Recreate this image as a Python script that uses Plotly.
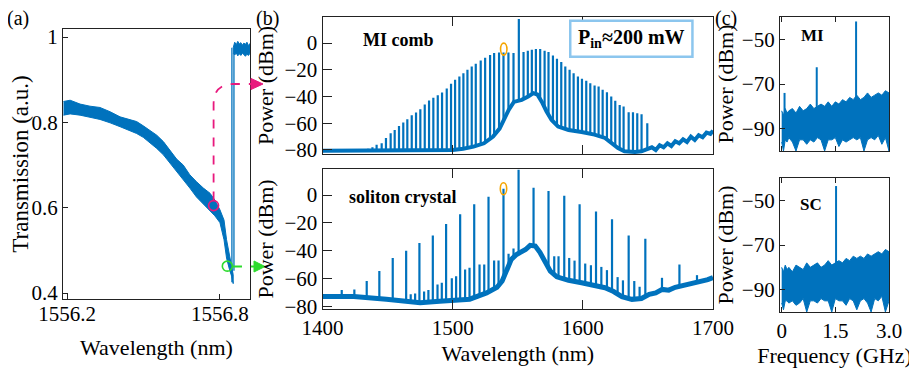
import plotly.graph_objects as go

# ---------------- (a) transmission scan ----------------
trans_wl = [1556.186, 1556.212, 1556.251, 1556.290, 1556.329, 1556.369, 1556.408, 1556.447,
            1556.473, 1556.499, 1556.525, 1556.552, 1556.578, 1556.604, 1556.630, 1556.656,
            1556.682, 1556.708, 1556.735, 1556.761, 1556.780, 1556.800, 1556.816, 1556.826,
            1556.837, 1556.846, 1556.852]
trans_upper = [0.849, 0.852, 0.843, 0.838, 0.835, 0.825, 0.813, 0.806, 0.802, 0.792, 0.781,
               0.770, 0.755, 0.735, 0.714, 0.700, 0.677, 0.661, 0.646, 0.634, 0.618, 0.595,
               0.571, 0.525, 0.486, 0.462, 0.443]
trans_lower = [0.817, 0.820, 0.817, 0.812, 0.807, 0.799, 0.790, 0.781, 0.774, 0.765, 0.753,
               0.739, 0.724, 0.704, 0.685, 0.665, 0.646, 0.625, 0.609, 0.593, 0.581, 0.565,
               0.525, 0.482, 0.456, 0.439, 0.422]
step_wl = [1556.847, 1556.855]
step_low = [0.425, 0.452]
step_high = [0.975, 0.975]
plateau_wl = [1556.852, 1556.858, 1556.864, 1556.870, 1556.876, 1556.882, 1556.888,
              1556.894, 1556.900, 1556.906, 1556.912, 1556.918]
plateau_upper = [0.975, 0.988, 0.982, 0.990, 0.984, 0.987, 0.981, 0.986, 0.983, 0.988, 0.980, 0.985]
plateau_lower = [0.962, 0.958, 0.963, 0.956, 0.961, 0.957, 0.962, 0.959, 0.955, 0.960, 0.957, 0.962]
mark_mi_a = (1556.775, 0.605)
mark_sc_a = (1556.829, 0.463)

# ---------------- (b) optical spectra ----------------
mi_wl = [1435.0, 1438.3, 1441.5, 1445.4, 1448.7, 1452.3, 1455.4, 1458.7, 1462.0, 1465.1,
         1468.5, 1471.8, 1475.1, 1478.5, 1481.8, 1485.1, 1488.5, 1491.8, 1495.4, 1498.7,
         1501.8, 1505.1, 1508.2, 1511.3, 1514.6, 1517.7, 1521.5, 1524.9, 1528.7, 1531.8,
         1535.6, 1539.0, 1542.8, 1546.7, 1550.8,
         1554.4, 1557.7, 1560.8, 1563.9, 1567.2, 1570.6, 1573.6, 1577.0, 1580.1, 1583.4,
         1586.5, 1589.8, 1592.9, 1596.2, 1599.3, 1602.6, 1605.7, 1609.0, 1612.1, 1615.2,
         1618.5, 1621.8, 1624.9, 1628.3, 1631.3, 1635.2, 1638.5, 1641.8, 1645.1, 1649.5]
mi_top = [-79, -78, -76, -75, -71, -67.5, -65, -62, -59.5, -57,
          -54, -52, -49.5, -46, -43, -41, -39, -37, -34, -30.5,
          -27.5, -25, -22.5, -20, -17.5, -15.5, -13, -11, -9, -7.5,
          -7, -7, -7, -7.5, 18,
          -6.75, -5.75, -5, -4.5, -4.5, -5.75, -6.75, -9.25, -11.75, -14.25,
          -17.5, -20, -22.5, -25, -26.75, -28.25, -30, -31.75, -32.5, -35,
          -36.75, -40, -43.25, -46.25, -47.5, -51.75, -51.75, -52.5, -53.25, -60]
mi_floor_wl = [1400, 1420, 1440, 1460, 1480, 1500, 1508, 1516, 1524, 1531, 1536, 1540, 1543,
               1547, 1550, 1553, 1558, 1562, 1565, 1568.5, 1572, 1576, 1581, 1589, 1599, 1609,
               1617, 1622, 1627, 1632, 1640, 1645, 1650, 1653, 1656, 1659, 1662, 1665, 1668,
               1671, 1674, 1677, 1680, 1683, 1686, 1689, 1692, 1695, 1698, 1700]
mi_floor_db = [-80.5, -80.5, -80.5, -80.5, -80.5, -80, -79, -77.5, -75, -70, -64, -56, -50,
               -44, -43, -42.5, -40, -37.5, -38.5, -44, -51, -57.5, -62.5, -65, -66.5, -68.5,
               -71, -75, -78.5, -81, -81.5, -81, -79.5, -78, -80, -76.5, -78, -75, -77,
               -73.5, -75, -72, -74, -70, -72.5, -69, -70.5, -67, -68, -65.5]

sc_wl = [1414.7, 1424.4, 1433.9, 1443.6, 1453.9, 1464.2, 1474.4, 1484.7, 1494.9, 1505.7,
         1516.5, 1527.5, 1539.0, 1550.6, 1562.1, 1573.6, 1585.7, 1597.5, 1610.1, 1622.4,
         1635.2, 1648.0, 1660.8, 1674.2, 1687.7,
         1467.7, 1471.1, 1478.0, 1481.3, 1488.3, 1491.6, 1499.3, 1502.6, 1509.5, 1512.9,
         1520.6, 1524.2, 1531.8, 1535.2, 1542.9, 1546.7, 1578.0, 1581.3, 1589.5, 1593.6,
         1601.8, 1606.2, 1614.2, 1618.5, 1626.7, 1630.8, 1639.5, 1643.6]
sc_top = [-68, -67.5, -61.5, -54.4, -45, -39.8, -34.3, -28.9, -20.8, -13.7,
          -6.6, -1.2, 4.5, 18, 5.2, 2.8, -0.5, -6.6, -11.8, -17.3,
          -28.9, -31.2, -59.2, -49.7, -57.3,
          -71, -70.5, -69, -68, -64, -62.7, -59.6, -58, -53.3, -52,
          -49.7, -49.7, -46.9, -46.9, -42, -38.3, -43.8, -43.8, -45, -46.9,
          -49, -50.2, -51.4, -53.7, -58.7, -61, -61.5, -65.6]
sc_floor_wl = [1400, 1424, 1449, 1475, 1490, 1501, 1513, 1526, 1534, 1538, 1542, 1545, 1549,
               1552, 1556, 1559.5, 1563.4, 1567, 1571, 1575, 1580, 1589, 1599, 1609.5, 1617,
               1623.6, 1630, 1637.7, 1645, 1651, 1656, 1661, 1666, 1671, 1676, 1681, 1686,
               1691, 1696, 1700]
sc_floor_db = [-72.5, -72.5, -74.5, -77, -76, -75.5, -74.5, -70, -66, -61.5, -53, -46, -42.5,
               -41, -39, -36, -36.5, -41, -48.5, -54.5, -58.5, -61, -62.7, -64.4, -66.3,
               -69, -72.7, -74.6, -74, -71, -70, -67.5, -68, -66, -65, -64, -62.5, -62,
               -60.5, -59]
mark_mi_b = (1539.2, -4.5)
mark_sc_b = (1539.0, 4.5)

# ---------------- (c) RF spectra ----------------
rf_f = [0.00, 0.05, 0.10, 0.15, 0.20, 0.30, 0.40, 0.50, 0.60, 0.70, 0.80, 0.90, 1.00, 1.10,
        1.20, 1.30, 1.40, 1.50, 1.60, 1.70, 1.80, 1.90, 2.00, 2.10, 2.20, 2.30, 2.40, 2.50,
        2.60, 2.70, 2.80, 2.90, 3.00]
mi_rf_upper = [-82, -84, -81, -83, -82, -81, -83, -80, -82, -81, -79, -81, -80, -79, -80,
               -78, -80, -78, -79, -77, -78, -76, -77, -75, -77, -76, -74, -76, -75, -74,
               -75, -73, -74]
mi_rf_lower = [-96, -100, -95, -96, -94, -96, -100, -95, -95, -97, -95, -96, -94, -95, -100,
               -95, -95, -94, -98, -95, -96, -95, -94, -95, -94, -100, -95, -94, -95, -93,
               -97, -94, -100]
mi_rf_peak_f = [0.08, 0.98, 2.08]
mi_rf_peak_db = [-74, -62.5, -42]
sc_rf_upper = [-80, -82, -79, -81, -80, -82, -79, -80, -81, -78, -80, -79, -78, -80, -79,
               -77, -79, -78, -77, -78, -76, -77, -75, -76, -75, -76, -74, -75, -74, -73,
               -74, -72, -73]
sc_rf_lower = [-96, -99, -95, -95, -96, -95, -97, -96, -94, -100, -95, -95, -96, -94, -95,
               -95, -100, -94, -95, -95, -97, -94, -95, -99, -95, -94, -96, -100, -94, -95,
               -93, -100, -95]
sc_rf_peak_f = [1.52]
sc_rf_peak_db = [-43.6]

BLUE = "#0072BD"
PINK = "#E8197D"
GREEN = "#2EDB2E"
ORANGE = "#F5A500"
FONT = "Liberation Serif"
OFF = 8                      # page body margin in the browser
W, H = 917 - OFF, 368 - OFF  # figure size so that it exactly fills the window


def px(x, y):
    """page pixel -> paper coordinates"""
    return (x - OFF) / W, 1 - (y - OFF) / H


def hdom(x0, x1):
    return [(x0 - OFF) / W, (x1 - OFF) / W]


def vdom(top, bottom):
    return [1 - (bottom - OFF) / H, 1 - (top - OFF) / H]


def sticks(xs, tops, base):
    xx, yy = [], []
    for x, t in zip(xs, tops):
        xx += [x, x, None]
        yy += [base, t, None]
    return xx, yy


def band(xs, up, lo):
    return list(xs) + list(xs)[::-1], list(up) + list(lo)[::-1]


fig = go.Figure()

# (a)
bx, by = band(trans_wl, trans_upper, trans_lower)
fig.add_trace(go.Scatter(x=bx, y=by, fill="toself", fillcolor=BLUE, mode="lines",
                         line=dict(color=BLUE, width=1), xaxis="x", yaxis="y"))
for w, lo, hi in zip(step_wl, step_low, step_high):
    fig.add_trace(go.Scatter(x=[w, w], y=[lo, hi], mode="lines",
                             line=dict(color=BLUE, width=1.3), xaxis="x", yaxis="y"))
bx, by = band(plateau_wl, plateau_upper, plateau_lower)
fig.add_trace(go.Scatter(x=bx, y=by, fill="toself", fillcolor=BLUE, mode="lines",
                         line=dict(color=BLUE, width=1), xaxis="x", yaxis="y"))

# (b) top: MI comb
sx, sy = sticks(mi_wl, mi_top, -100)
fig.add_trace(go.Scatter(x=sx, y=sy, mode="lines", line=dict(color=BLUE, width=2.2),
                         xaxis="x2", yaxis="y2"))
fig.add_trace(go.Scatter(x=mi_floor_wl + [1700, 1400], y=mi_floor_db + [-100, -100],
                         fill="toself", fillcolor="white", mode="lines",
                         line=dict(width=0, color="white"), xaxis="x2", yaxis="y2"))
fig.add_trace(go.Scatter(x=mi_floor_wl, y=mi_floor_db, mode="lines",
                         line=dict(color=BLUE, width=4), xaxis="x2", yaxis="y2"))

# (b) bottom: soliton crystal
sx, sy = sticks(sc_wl, sc_top, -100)
fig.add_trace(go.Scatter(x=sx, y=sy, mode="lines", line=dict(color=BLUE, width=2.2),
                         xaxis="x3", yaxis="y3"))
fig.add_trace(go.Scatter(x=sc_floor_wl + [1700, 1400], y=sc_floor_db + [-100, -100],
                         fill="toself", fillcolor="white", mode="lines",
                         line=dict(width=0, color="white"), xaxis="x3", yaxis="y3"))
fig.add_trace(go.Scatter(x=sc_floor_wl, y=sc_floor_db, mode="lines",
                         line=dict(color=BLUE, width=5), xaxis="x3", yaxis="y3"))

# (c)
for (up, lo, pf, pdb, xa, ya) in [(mi_rf_upper, mi_rf_lower, mi_rf_peak_f, mi_rf_peak_db, "x4", "y4"),
                                  (sc_rf_upper, sc_rf_lower, sc_rf_peak_f, sc_rf_peak_db, "x5", "y5")]:
    sx, sy = sticks(pf, pdb, -90)
    fig.add_trace(go.Scatter(x=sx, y=sy, mode="lines", line=dict(color=BLUE, width=2),
                             xaxis=xa, yaxis=ya))
    bx, by = band(rf_f, up, lo)
    fig.add_trace(go.Scatter(x=bx, y=by, fill="toself", fillcolor=BLUE, mode="lines",
                             line=dict(color=BLUE, width=1), xaxis=xa, yaxis=ya))

axis_style = dict(showline=True, linecolor="#222222", linewidth=1.3, mirror=True,
                  ticks="inside", ticklen=5, tickwidth=1.3, tickcolor="#222222",
                  showgrid=False, zeroline=False, automargin=False,
                  tickfont=dict(family=FONT, size=21, color="black"))
title_font = dict(family=FONT, size=22, color="black")
ytitle_font_a = dict(family=FONT, size=23, color="black")

dom_a_x = hdom(63, 250)
dom_a_y = vdom(29, 299)
dom_b_x = hdom(322.6, 713)
dom_bt_y = vdom(17, 154)
dom_bb_y = vdom(169, 309)
dom_c_x = hdom(780, 889)
dom_ct_y = vdom(17, 151)
dom_cb_y = vdom(178, 312)

layout = dict(
    width=W, height=H, margin=dict(l=0, r=0, t=0, b=0, autoexpand=False),
    paper_bgcolor="white", plot_bgcolor="white", showlegend=False,
    font=dict(family=FONT, color="black"),
    xaxis=dict(axis_style, domain=dom_a_x, anchor="y", range=[1556.184, 1556.918],
               tickvals=[1556.2, 1556.8], ticktext=["1556.2", "1556.8"], ticklabelstandoff=-4,
               title=dict(text="Wavelength (nm)", font=title_font, standoff=14)),
    yaxis=dict(axis_style, domain=dom_a_y, anchor="x", range=[0.386, 1.019],
               tickvals=[0.4, 0.6, 0.8, 1.0], ticktext=["0.4", "0.6", "0.8", "1"],
               title=dict(text="Transmission (a.u.)", font=ytitle_font_a, standoff=4)),
    xaxis2=dict(axis_style, domain=dom_b_x, anchor="y2", range=[1400, 1700], mirror="ticks",
                ticklen=9, tickvals=[1500, 1600], showticklabels=False),
    yaxis2=dict(axis_style, domain=dom_bt_y, anchor="x2", range=[-83, 19.5], ticklen=9,
                tickvals=[-80, -60, -40, -20, 0],
                title=dict(text="Power (dBm)", font=title_font, standoff=4)),
    xaxis3=dict(axis_style, domain=dom_b_x, anchor="y3", range=[1400, 1700], mirror="ticks",
                ticklen=9, tickvals=[1400, 1500, 1600, 1700],
                title=dict(text="Wavelength (nm)", font=title_font, standoff=6)),
    yaxis3=dict(axis_style, domain=dom_bb_y, anchor="x3", range=[-81.5, 18.6], ticklen=9,
                tickvals=[-80, -60, -40, -20, 0],
                title=dict(text="Power (dBm)", font=title_font, standoff=4)),
    xaxis4=dict(axis_style, domain=dom_c_x, anchor="y4", range=[-0.047, 3.0], mirror="ticks",
                tickvals=[0, 1.5, 3.0], showticklabels=False),
    yaxis4=dict(axis_style, domain=dom_ct_y, anchor="x4", range=[-100, -40],
                tickvals=[-90, -70, -50],
                title=dict(text="Power (dBm)", font=title_font, standoff=2)),
    xaxis5=dict(axis_style, domain=dom_c_x, anchor="y5", range=[-0.047, 3.0], mirror="ticks",
                tickvals=[0, 1.5, 3.0], ticktext=["0", "1.5", "3.0"],
                title=dict(text="Frequency (GHz)", font=title_font, standoff=6)),
    yaxis5=dict(axis_style, domain=dom_cb_y, anchor="x5", range=[-100, -40],
                tickvals=[-90, -70, -50],
                title=dict(text="Power (dBm)", font=title_font, standoff=2)),
)
fig.update_layout(**layout)

shapes = []
for (cx, cy), col, xr, yr, rx, ry in [
        (mark_mi_a, PINK, "x", "y", 5, 5), (mark_sc_a, GREEN, "x", "y", 5, 5),
        (mark_mi_b, ORANGE, "x2", "y2", 3.2, 6), (mark_sc_b, ORANGE, "x3", "y3", 3.2, 6)]:
    shapes.append(dict(type="circle", xref=xr, yref=yr, xsizemode="pixel", ysizemode="pixel",
                       xanchor=cx, yanchor=cy, x0=-rx, x1=rx, y0=-ry, y1=ry,
                       line=dict(color=col, width=1.6), layer="above"))


def ppath(pts, cmd):
    out = []
    for c, pt in zip(cmd, pts):
        if pt is None:
            out.append(c)
        else:
            x, y = px(*pt)
            out.append(f"{c} {x:.5f},{y:.5f}")
    return " ".join(out)


shapes.append(dict(type="path", xref="paper", yref="paper",
                   path=ppath([(213.6, 200.5), (213.6, 104), (213.6, 84), (233.6, 84), (252, 84)],
                              ["M", "L", "Q", "", "L"]),
                   line=dict(color=PINK, width=1.8, dash="dash")))
shapes.append(dict(type="path", xref="paper", yref="paper",
                   path=ppath([(251, 78.5), (251, 89.5), (263, 84), None], ["M", "L", "L", "Z"]),
                   fillcolor=PINK, line=dict(color=PINK, width=1)))
shapes.append(dict(type="path", xref="paper", yref="paper",
                   path=ppath([(233, 266.5), (255, 266.5)], ["M", "L"]),
                   line=dict(color=GREEN, width=1.8, dash="dash")))
shapes.append(dict(type="path", xref="paper", yref="paper",
                   path=ppath([(254, 261), (254, 272), (265, 266.5), None], ["M", "L", "L", "Z"]),
                   fillcolor=GREEN, line=dict(color=GREEN, width=1)))
shapes.append(dict(type="rect", xref="x2", yref="y2", x0=1590.3, x1=1684.2, y0=-10.3, y1=16.7,
                   line=dict(color="#8CC6EE", width=2.5), fillcolor="white", layer="above"))
fig.update_layout(shapes=shapes)

ann = []
for txt, (x, y) in [("(a)", (18, 18)), ("(b)", (267, 18)), ("(c)", (726, 18))]:
    xp, yp = px(x, y)
    ann.append(dict(text=txt, x=xp, y=yp, xref="paper", yref="paper", showarrow=False,
                    xanchor="center", yanchor="middle", font=dict(family=FONT, size=20, color="black")))
bold = dict(family=FONT, size=18, color="black")
ann += [
    dict(text="<b>MI comb</b>", x=1458, y=2.5, xref="x2", yref="y2", showarrow=False, font=bold),
    dict(text="<b>soliton crystal</b>", x=1461.8, y=-1.4, xref="x3", yref="y3", showarrow=False, font=bold),
    dict(text="<b>P<sub>in</sub>≈200 mW</b>", x=1637.3, y=3.2, xref="x2", yref="y2", showarrow=False,
         font=dict(family=FONT, size=20, color="black")),
    dict(text="<b>MI</b>", x=0.87, y=-48.1, xref="x4", yref="y4", showarrow=False,
         font=dict(family=FONT, size=17, color="black")),
    dict(text="<b>SC</b>", x=0.82, y=-52, xref="x5", yref="y5", showarrow=False,
         font=dict(family=FONT, size=17, color="black")),
]
fig.update_layout(annotations=ann)

fig.write_html("out.html")
